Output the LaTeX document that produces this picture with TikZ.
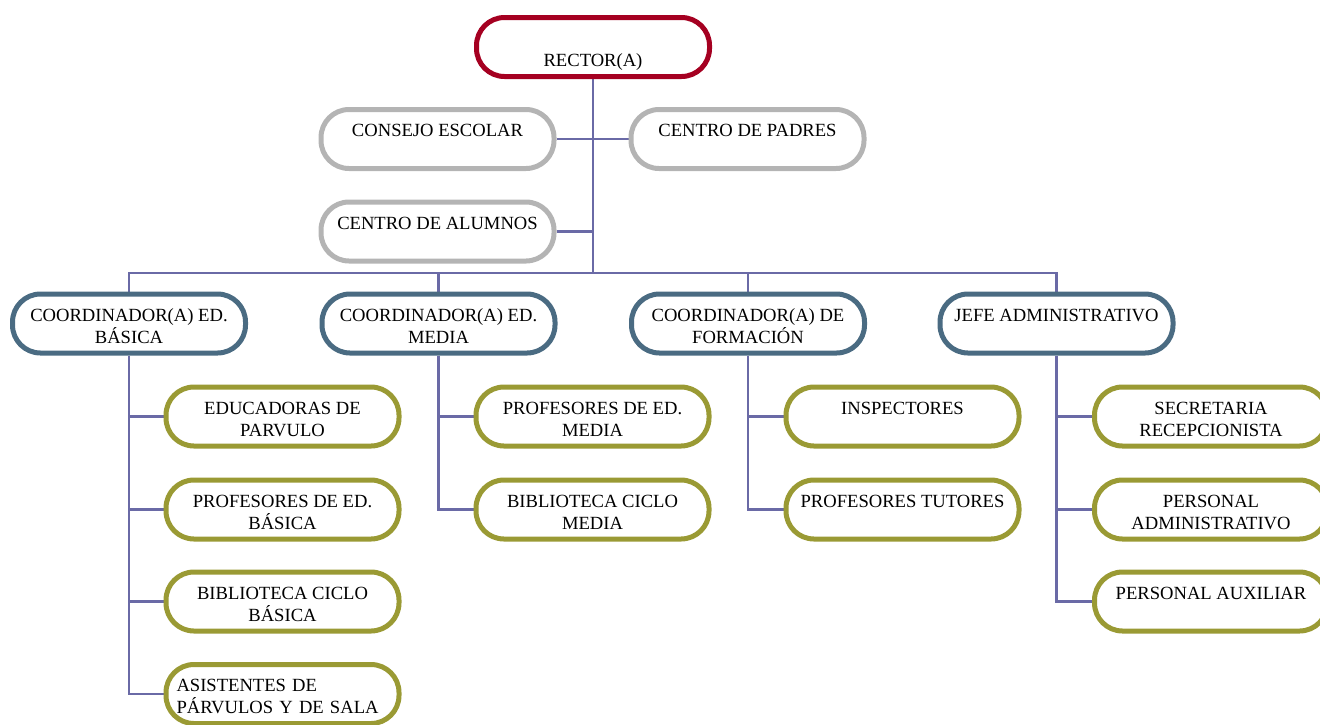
\documentclass[tikz,border=0pt]{standalone}
\usepackage{fontspec}
\setmainfont{Liberation Serif}
\usepackage{xcolor}
\usetikzlibrary{backgrounds}
\definecolor{rojo}{RGB}{165,0,33}
\definecolor{gris}{RGB}{180,180,180}
\definecolor{azul}{RGB}{74,107,130}
\definecolor{oliva}{RGB}{154,154,52}
\definecolor{morado}{RGB}{106,106,166}
\newcommand{\lineas}[2]{\rule{0pt}{12.2pt}#1\\#2\rule[-3.3pt]{0pt}{3.3pt}}

\begin{document}
\begin{tikzpicture}[x=0.5pt,y=-0.5pt]
  \tikzstyle{every node}=[font=\fontsize{9.3pt}{11pt}\selectfont]
  \tikzstyle{caja}=[rectangle, rounded corners=14pt, line width=2.5pt, fill=white,
    minimum width=116.5pt, minimum height=29.5pt, inner xsep=3pt, inner ysep=0pt, align=center]
  \tikzstyle{cajaroja}=[caja, draw=rojo]
  \tikzstyle{cajagris}=[caja, draw=gris]
  \tikzstyle{cajaazul}=[caja, draw=azul]
  \tikzstyle{cajaverde}=[caja, draw=oliva]
  \tikzstyle{enlace}=[draw=morado, line width=1.1pt]
  \useasboundingbox (0,0) rectangle (1320,724);

  \node (rector) [cajaroja] at (593,47) {\lineas{}{RECTOR(A)}};
  \node (consejo) [cajagris] at (437.5,139) {\lineas{CONSEJO ESCOLAR}{}};
  \node (padres) [cajagris] at (747.5,139) {\lineas{CENTRO DE PADRES}{}};
  \node (alumnos) [cajagris] at (437.5,231.5) {\lineas{CENTRO DE ALUMNOS}{}};
  \coordinate (bus) at (593,273);

  % coordinaciones
  \node (basica) [cajaazul] at (129,323.5) {\lineas{COORDINADOR(A) ED.}{BÁSICA}};
  \node (media) [cajaazul] at (438.5,323.5) {\lineas{COORDINADOR(A) ED.}{MEDIA}};
  \node (formacion) [cajaazul] at (748,323.5) {\lineas{COORDINADOR(A) DE}{FORMACIÓN}};
  \node (jefe) [cajaazul] at (1056.5,323.5) {\lineas{JEFE ADMINISTRATIVO}{}};

  % basica
  \node (educadoras) [cajaverde] at (282.5,416.5) {\lineas{EDUCADORAS DE}{PARVULO}};
  \node (profbasica) [cajaverde] at (282.5,509.5) {\lineas{PROFESORES DE ED.}{BÁSICA}};
  \node (bibbasica) [cajaverde] at (282.5,601.5) {\lineas{BIBLIOTECA CICLO}{BÁSICA}};
  \node (asistentes) [cajaverde, align=left, text width=106pt, inner xsep=5.25pt] at (282.5,694) {\lineas{ASISTENTES DE}{PÁRVULOS Y DE SALA}};

  % media
  \node (profmedia) [cajaverde] at (592.5,416.5) {\lineas{PROFESORES DE ED.}{MEDIA}};
  \node (bibmedia) [cajaverde] at (592.5,509.5) {\lineas{BIBLIOTECA CICLO}{MEDIA}};

  % formacion
  \node (inspectores) [cajaverde] at (902.5,416.5) {\lineas{INSPECTORES}{}};
  \node (tutores) [cajaverde] at (902.5,509.5) {\lineas{PROFESORES TUTORES}{}};

  % administracion
  \node (secretaria) [cajaverde] at (1211,416.5) {\lineas{SECRETARIA}{RECEPCIONISTA}};
  \node (personal) [cajaverde] at (1211,509.5) {\lineas{PERSONAL}{ADMINISTRATIVO}};
  \node (auxiliar) [cajaverde] at (1211,601.5) {\lineas{PERSONAL AUXILIAR}{}};

  \begin{scope}[on background layer]
    \draw[enlace] (rector.south) -- (bus);
    \draw[enlace] (consejo.east) -- (padres.west);
    \draw[enlace] (alumnos.east) -- (alumnos.east -| rector.south);
    \draw[enlace] (basica.north) |- (bus) -| (jefe.north);
    \draw[enlace] (media.north) -- (media.north |- bus);
    \draw[enlace] (formacion.north) -- (formacion.north |- bus);
    \draw[enlace] (basica.south) |- (asistentes.west);
    \foreach \hijo in {educadoras, profbasica, bibbasica}
      \draw[enlace] (\hijo.west) -- (\hijo.west -| basica.south);
    \draw[enlace] (media.south) |- (bibmedia.west);
    \draw[enlace] (profmedia.west) -- (profmedia.west -| media.south);
    \draw[enlace] (formacion.south) |- (tutores.west);
    \draw[enlace] (inspectores.west) -- (inspectores.west -| formacion.south);
    \draw[enlace] (jefe.south) |- (auxiliar.west);
    \foreach \hijo in {secretaria, personal}
      \draw[enlace] (\hijo.west) -- (\hijo.west -| jefe.south);
  \end{scope}
\end{tikzpicture}
\end{document}
